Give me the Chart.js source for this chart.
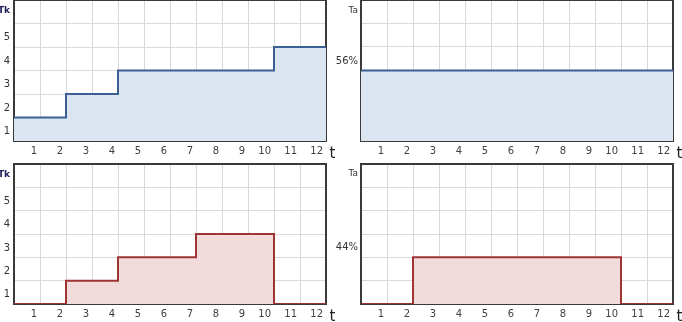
<!DOCTYPE html>
<html><head><meta charset="utf-8">
<script src="https://cdn.jsdelivr.net/npm/chart.js@4.4.1/dist/chart.umd.min.js"></script>
<style>
html,body{margin:0;padding:0;background:#fff;width:682px;height:322px;overflow:hidden}
.p{position:absolute}
</style></head><body>
<div class="p" style="left:0;top:0;width:341px;height:161px"><canvas id="c1"></canvas></div>
<div class="p" style="left:330px;top:0;width:352px;height:161px"><canvas id="c2"></canvas></div>
<div class="p" style="left:0;top:161px;width:341px;height:161px"><canvas id="c3"></canvas></div>
<div class="p" style="left:330px;top:161px;width:352px;height:161px"><canvas id="c4"></canvas></div>
<script>
// ---- data ----
const periods = [1,2,3,4,5,6,7,8,9,10,11,12];
const xTickLabels = ['1','2','3','4','5','6','7','8','9','10','11','12'];
const tkTickLabels = ['1','2','3','4','5'];
const tkAxisTitle = 'Tk';
const taAxisTitle = 'Ta';
const xAxisTitle = 't';
const tkTop    = [1,1,2,2,3,3,3,3,3,3,4,4];
const taTop    = [56,56,56,56,56,56,56,56,56,56,56,56];
const tkBottom = [0,0,1,1,2,2,2,3,3,3,0,0];
const taBottom = [0,0,44,44,44,44,44,44,44,44,0,0];
const taTopLabel = '56%';
const taBottomLabel = '44%';
const tkAxisMax = 6;
const taTopAxisMax = 112;
const taBottomAxisMax = 132;

// ---- styles ----
const FONT = '"DejaVu Sans", Verdana, sans-serif';
const BLUE = {line:'#3b5f92', fill:'#dbe5f1'};
const RED  = {line:'#9e3434', fill:'#f2dcdb'};
const GRID = '#d9d9d9';

function stepPoints(vals){
  const pts = vals.map((v,i)=>({x: periods[i]-1, y: v}));
  pts.push({x: periods[periods.length-1], y: vals[vals.length-1]});
  return pts;
}

function zeroPad(s){ s.paddingTop = 0; s.paddingBottom = 0; s.paddingLeft = 0; s.paddingRight = 0; }

const framePlugin = {
  id:'frame',
  beforeDatasetsDraw(chart){
    const {ctx, chartArea:a} = chart;
    ctx.save();
    ctx.strokeStyle = '#3a3a3a';
    ctx.lineWidth = 2;
    ctx.strokeRect(a.left, a.top, a.right-a.left, a.bottom-a.top);
    ctx.restore();
  },
  afterDraw(chart){
    const {ctx, chartArea:a} = chart;
    ctx.save();
    ctx.font = '15px ' + FONT;
    ctx.fillStyle = '#222';
    ctx.textAlign = 'left';
    ctx.textBaseline = 'alphabetic';
    ctx.fillText(xAxisTitle, a.right + 3.5, a.bottom + 17);
    ctx.restore();
  }
};

function makeChart(id, cfg){
  const u = cfg.yMax / 6;
  const yTicks = [];
  for (let i=0;i<=6;i++) yTicks.push({value:i*u, lab:''});
  cfg.yLabels.forEach(l => yTicks.push({value:l.pos*u, lab:l.text, isLabel:true, bold:!!l.bold}));
  yTicks.sort((a,b)=>a.value-b.value);
  new Chart(document.getElementById(id), {
    type:'line',
    data:{datasets:[{
      data: stepPoints(cfg.values),
      borderColor: cfg.color.line,
      backgroundColor: cfg.color.fill,
      fill:'origin',
      stepped:true,
      borderWidth:2,
      pointRadius:0,
      borderJoinStyle:'miter'
    }]},
    options:{
      responsive:true, maintainAspectRatio:false, animation:false, devicePixelRatio:1,
      layout:{padding:cfg.padding, autoPadding:false},
      plugins:{legend:{display:false}, tooltip:{enabled:false}},
      scales:{
        x:{
          type:'linear', min:0, max:12,
          afterBuildTicks: s => { s.ticks = [0].concat(periods).map(v=>({value:v})); },
          afterFit: s => { s.height = cfg.xHeight; zeroPad(s); },
          grid:{color:GRID, lineWidth:1, drawTicks:false},
          border:{display:false},
          ticks:{
            autoSkip:false, maxRotation:0, align:'end', labelOffset:-3, padding:4,
            color:'#404040', font:{family:FONT, size:10},
            callback:(v,i)=> i===0 ? '' : xTickLabels[i-1]
          }
        },
        y:{
          type:'linear', min:0, max:cfg.yMax,
          afterBuildTicks: s => { s.ticks = yTicks.map(t=>Object.assign({}, t)); },
          afterFit: s => { s.width = cfg.yWidth; zeroPad(s); },
          grid:{
            color: c => (c.tick && c.tick.isLabel) ? 'rgba(0,0,0,0)' : GRID,
            lineWidth: c => (c.tick && c.tick.isLabel) ? 0 : 1,
            drawTicks:false
          },
          border:{display:false},
          ticks:{
            autoSkip:false, padding:cfg.yPad,
            color: c => (c.tick && c.tick.bold) ? '#1f1f5c' : '#333',
            font: c => (c.tick && c.tick.bold) ? {family:FONT, size:9, weight:'bold'} : {family:FONT, size: (c.tick && c.tick.lab===taAxisTitle) ? 9 : 10},
            callback:(v,i,ts)=> ts[i].lab
          }
        }
      }
    },
    plugins:[framePlugin]
  });
}

const tkLabelsPos = tkTickLabels.map((t,i)=>({text:t, pos:i+0.4})).concat([{text:tkAxisTitle, pos:5.55, bold:true}]);

makeChart('c1', {values:tkTop, color:BLUE, yMax:tkAxisMax, yLabels:tkLabelsPos,
  padding:{left:0,top:0,right:15,bottom:0}, yWidth:14, xHeight:20, yPad:4});
makeChart('c2', {values:taTop, color:BLUE, yMax:taTopAxisMax,
  yLabels:[{text:taTopLabel, pos:3.4},{text:taAxisTitle, pos:5.55}],
  padding:{left:0,top:0,right:9,bottom:0}, yWidth:31, xHeight:20, yPad:3});
makeChart('c3', {values:tkBottom, color:RED, yMax:tkAxisMax, yLabels:tkLabelsPos,
  padding:{left:0,top:3,right:15,bottom:0}, yWidth:14, xHeight:18, yPad:4});
makeChart('c4', {values:taBottom, color:RED, yMax:taBottomAxisMax,
  yLabels:[{text:taBottomLabel, pos:2.43},{text:taAxisTitle, pos:5.6}],
  padding:{left:0,top:3,right:9,bottom:0}, yWidth:31, xHeight:18, yPad:3});
</script>
</body></html>
